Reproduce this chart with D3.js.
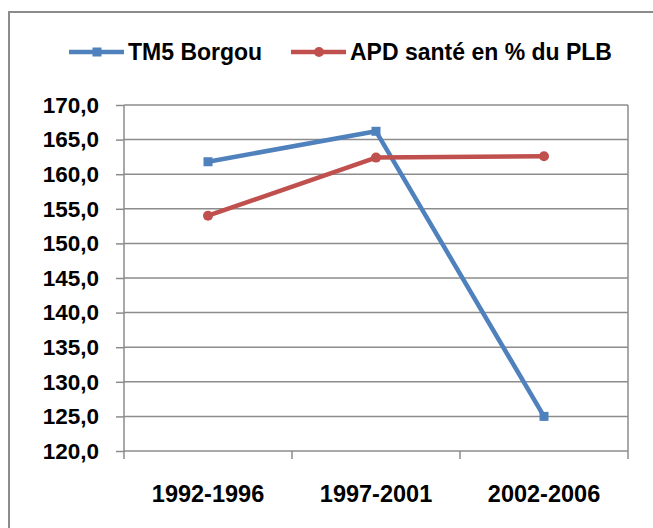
<!DOCTYPE html>
<html>
<head>
<meta charset="utf-8">
<script src="https://cdn.jsdelivr.net/npm/d3@7"></script>
<style>
  html, body { margin: 0; padding: 0; background: #fff; }
  svg { display: block; }
  text { font-family: 'Liberation Sans', Arial, sans-serif; font-weight: bold; fill: #000; }
</style>
</head>
<body>
<svg id="chart"></svg>
<script>
// data
const periods = ['1992-1996', '1997-2001', '2002-2006'];
const tm5Borgou = [161.8, 166.2, 125.0];
const apdSante = [154.0, 162.4, 162.6];
const yTicks = [120, 125, 130, 135, 140, 145, 150, 155, 160, 165, 170];

const W = 653, H = 528;
const margin = { top: 105, right: 25, bottom: 77, left: 124 };
const w = W - margin.left - margin.right;
const h = H - margin.top - margin.bottom;
const GRID = '#8c8c8c';

const series = [
  { name: 'TM5 Borgou', values: tm5Borgou, color: '#4f81bd', marker: 'square' },
  { name: 'APD santé en % du PLB', values: apdSante, color: '#c0504d', marker: 'circle' },
];

const svg = d3.select('#chart').attr('width', W).attr('height', H);

// outer chart border (runs past right and bottom edges of the picture)
svg.append('rect').attr('x', 9).attr('y', 12).attr('width', 700).attr('height', 600)
  .attr('fill', 'none').attr('stroke', GRID).attr('stroke-width', 2);

const g = svg.append('g').attr('transform', `translate(${margin.left},${margin.top})`);

const x = d3.scaleBand().domain(periods).range([0, w]);
const y = d3.scaleLinear().domain([120, 170]).range([h, 0]);
const fmt = v => d3.format('.1f')(v).replace('.', ',');

// gridlines
g.selectAll('.grid').data(yTicks).enter().append('line')
  .attr('x1', 0).attr('x2', w).attr('y1', d => y(d)).attr('y2', d => y(d))
  .attr('stroke', GRID).attr('stroke-width', 1.5);

// y axis
const yAx = g.append('g').call(d3.axisLeft(y).tickValues(yTicks).tickFormat(fmt).tickSize(8).tickPadding(17));
yAx.select('.domain').remove();
yAx.append('line').attr('x1', 0).attr('x2', 0).attr('y1', 0).attr('y2', h + 8)
  .attr('stroke', GRID).attr('stroke-width', 1.5);
yAx.selectAll('.tick line').attr('stroke', GRID).attr('stroke-width', 1.5);
yAx.selectAll('text').style('font-size', '22.5px').style('font-family', null).attr('fill', '#000');

// right edge of plot
g.append('line').attr('x1', w).attr('x2', w).attr('y1', 0).attr('y2', h + 8)
  .attr('stroke', GRID).attr('stroke-width', 1.5);

// x axis: ticks at category boundaries
const xAx = g.append('g').attr('transform', `translate(0,${h})`)
  .call(d3.axisBottom(x).tickSize(0).tickPadding(34));
xAx.select('.domain').remove();
xAx.selectAll('text').style('font-size', '23.5px').style('font-family', null).attr('fill', '#000');
g.selectAll('.xtick').data(periods.slice(1)).enter().append('line')
  .attr('x1', d => x(d)).attr('x2', d => x(d)).attr('y1', h).attr('y2', h + 8)
  .attr('stroke', GRID).attr('stroke-width', 1.5);

// series lines and markers
const line = d3.line().x((d, i) => x(periods[i]) + x.bandwidth() / 2).y(d => y(d));
series.forEach(s => {
  g.append('path').datum(s.values).attr('d', line)
    .attr('fill', 'none').attr('stroke', s.color).attr('stroke-width', 4.5).attr('stroke-linejoin', 'round');
  s.values.forEach((v, i) => {
    const cx = x(periods[i]) + x.bandwidth() / 2, cy = y(v);
    if (s.marker === 'square') {
      g.append('rect').attr('x', cx - 4.5).attr('y', cy - 4.5).attr('width', 9).attr('height', 9).attr('fill', s.color);
    } else {
      g.append('circle').attr('cx', cx).attr('cy', cy).attr('r', 5).attr('fill', s.color);
    }
  });
});

// legend
const legendX = [69, 291];
series.forEach((s, i) => {
  const lg = svg.append('g').attr('transform', `translate(${legendX[i]},52)`);
  lg.append('line').attr('x1', 0).attr('x2', 55).attr('y1', 0).attr('y2', 0)
    .attr('stroke', s.color).attr('stroke-width', 4.5);
  if (s.marker === 'square') {
    lg.append('rect').attr('x', 23.5).attr('y', -4.5).attr('width', 9).attr('height', 9).attr('fill', s.color);
  } else {
    lg.append('circle').attr('cx', 28).attr('cy', 0).attr('r', 5).attr('fill', s.color);
  }
  lg.append('text').attr('x', 59).attr('y', 8).style('font-size', '23px').text(s.name);
});
</script>
</body>
</html>
